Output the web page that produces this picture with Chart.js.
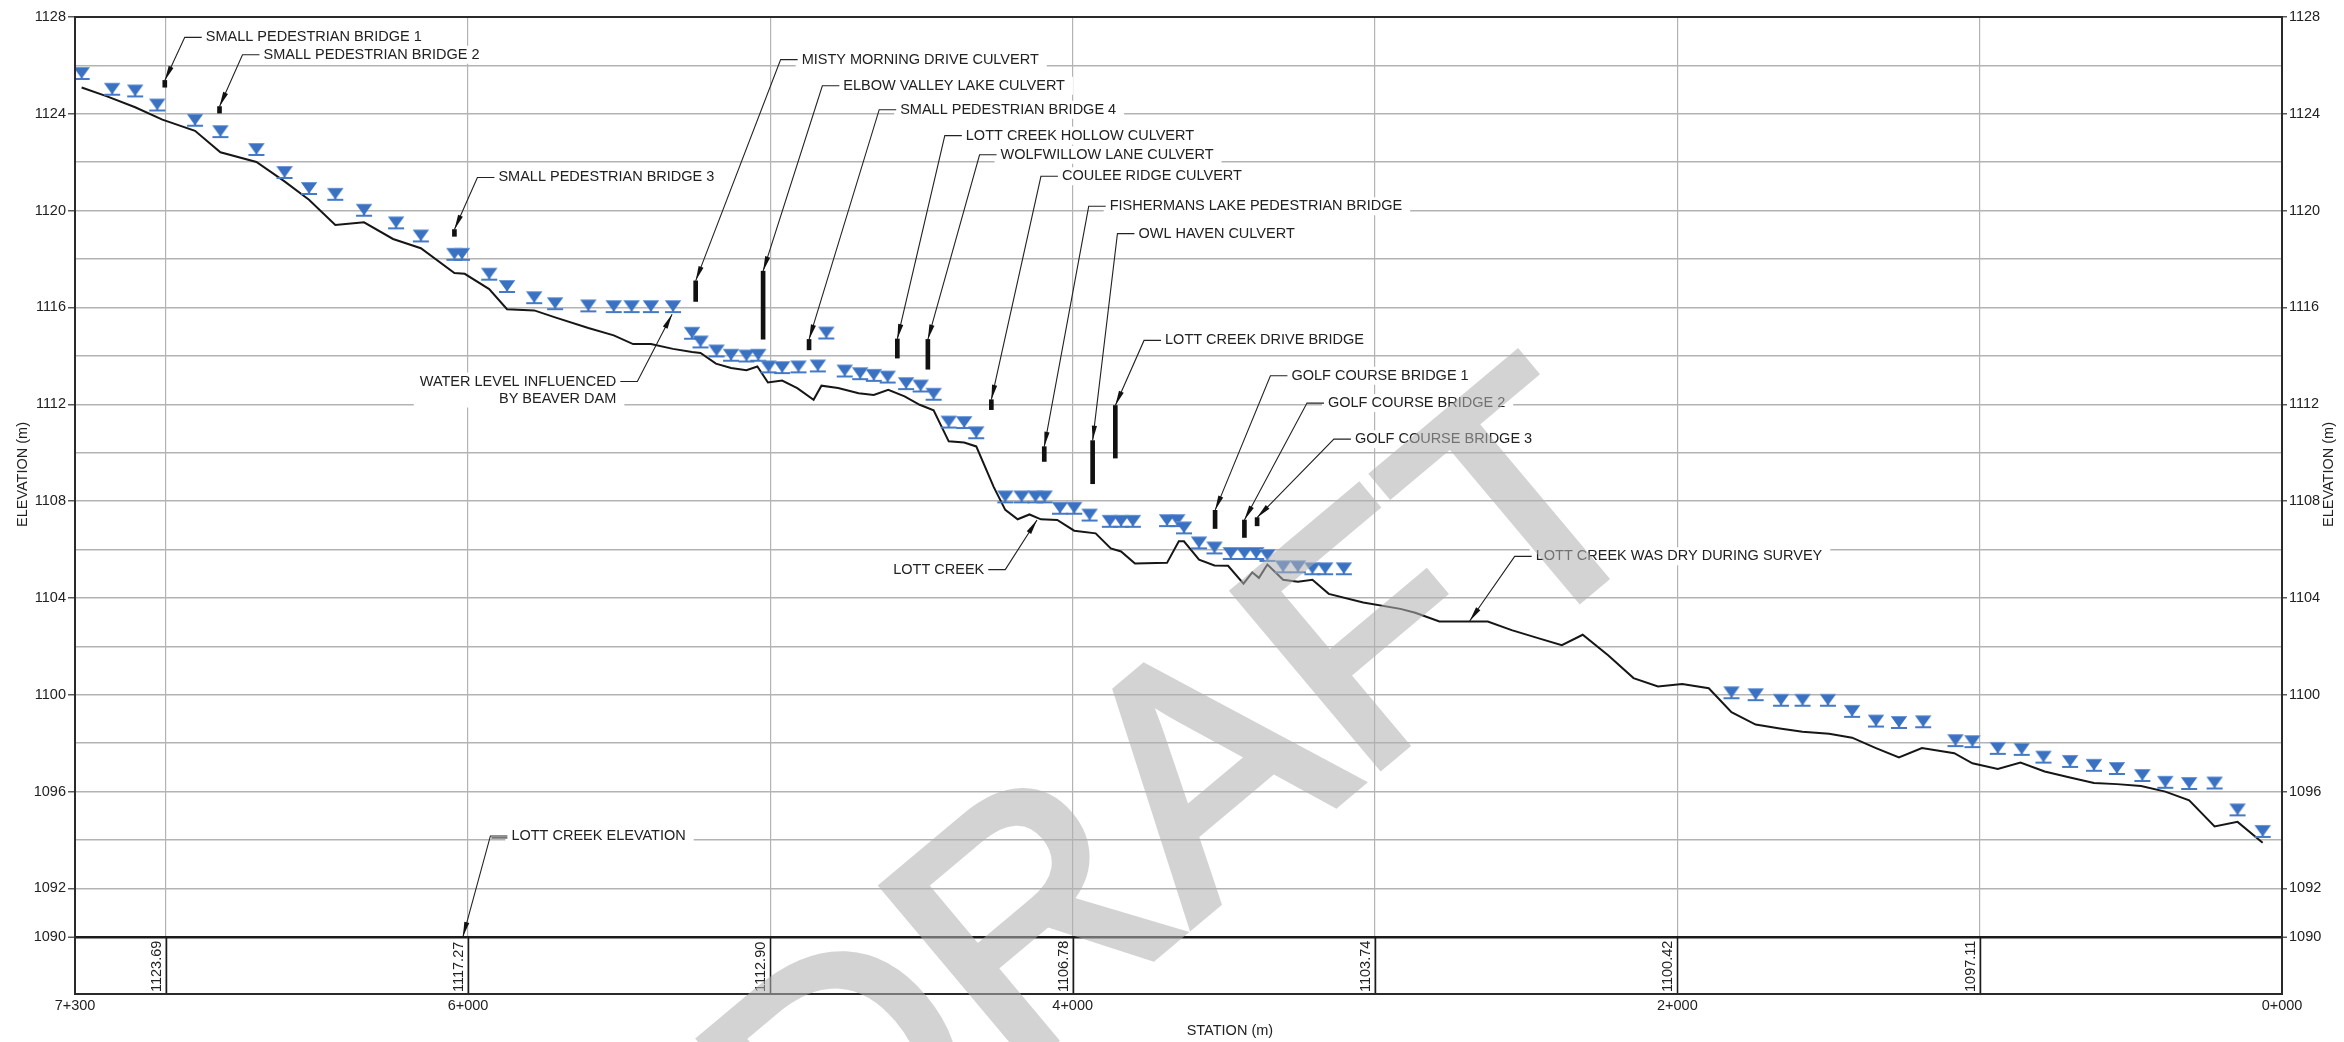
<!DOCTYPE html>
<html>
<head>
<meta charset="utf-8">
<title>Lott Creek Profile</title>
<script src="https://cdn.jsdelivr.net/npm/chart.js@4.4.1/dist/chart.umd.min.js"></script>
<style>
  html, body { margin: 0; padding: 0; background: #fff; }
  #wrap { width: 2344px; height: 1042px; position: relative; }
</style>
</head>
<body>
<div id="wrap"><canvas id="profile-chart"></canvas></div>
<script>
// creek bed profile, station (m) and elevation (m)
const creekStation = [7278, 7194, 7101, 7011, 6903, 6819, 6700, 6607, 6526, 6439, 6344, 6248, 6156, 6045, 6011, 5930, 5871, 5781, 5712, 5602,
  5518, 5454, 5395, 5322, 5259, 5231, 5180, 5130, 5079, 5043, 5008, 4961, 4911, 4857, 4831, 4776, 4708, 4658, 4610, 4556,
  4506, 4460, 4410, 4359, 4319, 4261, 4223, 4182, 4143, 4105, 4051, 3995, 3924, 3874, 3840, 3794, 3688, 3649, 3632, 3582,
  3531, 3486, 3435, 3406, 3384, 3356, 3304, 3255, 3207, 3153, 3039, 2916, 2867, 2787, 2627, 2548, 2458, 2382, 2313, 2229,
  2145, 2064, 1984, 1896, 1821, 1741, 1661, 1586, 1498, 1422, 1343, 1267, 1191, 1084, 1024, 940, 865, 785, 705, 622,
  546, 466, 386, 307, 223, 147, 64];
const creekElev = [1125.09, 1124.72, 1124.27, 1123.76, 1123.30, 1122.41, 1122.01, 1121.21, 1120.45, 1119.41, 1119.52, 1118.83, 1118.45, 1117.42, 1117.39, 1116.76, 1115.93, 1115.88, 1115.59, 1115.15,
  1114.85, 1114.49, 1114.49, 1114.29, 1114.16, 1114.12, 1113.68, 1113.50, 1113.41, 1113.56, 1112.90, 1112.98, 1112.67, 1112.19, 1112.77, 1112.67, 1112.46, 1112.39, 1112.60, 1112.33,
  1111.98, 1111.75, 1110.47, 1110.42, 1110.26, 1108.58, 1107.64, 1107.25, 1107.45, 1107.25, 1107.22, 1106.78, 1106.67, 1106.05, 1105.92, 1105.42, 1105.45, 1106.34, 1106.34, 1105.58,
  1105.34, 1105.33, 1104.59, 1105.06, 1104.83, 1105.38, 1104.75, 1104.67, 1104.75, 1104.17, 1103.81, 1103.55, 1103.39, 1103.03, 1103.03, 1102.67, 1102.33, 1102.05, 1102.48, 1101.63,
  1100.69, 1100.34, 1100.45, 1100.27, 1099.28, 1098.77, 1098.61, 1098.47, 1098.39, 1098.23, 1097.80, 1097.41, 1097.80, 1097.59, 1097.17, 1096.94, 1097.20, 1096.83, 1096.59, 1096.36,
  1096.31, 1096.23, 1096.00, 1095.64, 1094.56, 1094.75, 1093.89];

// surveyed water levels
const waterStation = [7278, 7177, 7101, 7028, 6903, 6819, 6700, 6607, 6526, 6439, 6344, 6238, 6156, 6045, 6020, 5930, 5871, 5781, 5712, 5602,
  5518, 5459, 5395, 5322, 5259, 5231, 5178, 5130, 5079, 5040, 5006, 4961, 4907, 4843, 4815, 4754, 4703, 4658, 4612, 4551,
  4503, 4460, 4410, 4359, 4319, 4223, 4169, 4123, 4093, 4042, 3995, 3944, 3877, 3840, 3801, 3688, 3654, 3632, 3582, 3531,
  3477, 3432, 3393, 3356, 3304, 3255, 3207, 3165, 3103,
  1821, 1741, 1657, 1586, 1502, 1422, 1343, 1267, 1187, 1080, 1024, 940, 861, 789, 701, 622, 546, 462, 386, 307,
  223, 147, 64];
const waterElev = [1125.44, 1124.79, 1124.72, 1124.14, 1123.51, 1123.04, 1122.30, 1121.35, 1120.69, 1120.45, 1119.79, 1119.27, 1118.73, 1117.97, 1117.97, 1117.15, 1116.64, 1116.18, 1115.93, 1115.84,
  1115.81, 1115.81, 1115.81, 1115.81, 1114.71, 1114.35, 1113.98, 1113.80, 1113.77, 1113.80, 1113.32, 1113.29, 1113.32, 1113.36, 1114.72, 1113.15, 1113.04, 1112.97, 1112.90, 1112.63,
  1112.53, 1112.19, 1111.04, 1111.02, 1110.60, 1107.95, 1107.95, 1107.95, 1107.95, 1107.48, 1107.48, 1107.20, 1106.94, 1106.94, 1106.94, 1106.97, 1106.97, 1106.67, 1106.05, 1105.84,
  1105.61, 1105.61, 1105.61, 1105.53, 1105.06, 1105.06, 1104.98, 1104.98, 1104.98,
  1099.86, 1099.78, 1099.55, 1099.55, 1099.55, 1099.09, 1098.69, 1098.63, 1098.66, 1097.88, 1097.84, 1097.56, 1097.52, 1097.20, 1097.02, 1096.86, 1096.73, 1096.44, 1096.16, 1096.11,
  1096.13, 1095.02, 1094.13];

// crossings (bridges / culverts)
const structureName = ['SMALL PEDESTRIAN BRIDGE 1', 'SMALL PEDESTRIAN BRIDGE 2', 'SMALL PEDESTRIAN BRIDGE 3', 'MISTY MORNING DRIVE CULVERT',
  'ELBOW VALLEY LAKE CULVERT', 'SMALL PEDESTRIAN BRIDGE 4', 'LOTT CREEK HOLLOW CULVERT', 'WOLFWILLOW LANE CULVERT', 'COULEE RIDGE CULVERT',
  'FISHERMANS LAKE PEDESTRIAN BRIDGE', 'OWL HAVEN CULVERT', 'LOTT CREEK DRIVE BRIDGE', 'GOLF COURSE BRIDGE 1', 'GOLF COURSE BRIDGE 2', 'GOLF COURSE BRIDGE 3'];
const structureStation = [7003, 6822, 6045, 5247, 5024, 4872, 4580, 4479, 4269, 4094, 3934, 3859, 3529, 3432, 3390];
const structureBottom = [1125.10, 1124.03, 1118.94, 1116.25, 1114.69, 1114.25, 1113.91, 1113.45, 1111.78, 1109.64, 1108.72, 1109.78, 1106.87, 1106.50, 1106.98];
const structureTop = [1125.38, 1124.30, 1119.22, 1117.10, 1117.50, 1114.68, 1114.70, 1114.68, 1112.19, 1110.25, 1110.50, 1111.95, 1107.62, 1107.22, 1107.32];

// elevation read-out band under the profile
const bandStations = [7000, 6000, 5000, 4000, 3000, 2000, 1000];
const bandElevLabels = ['1123.69', '1117.27', '1112.90', '1106.78', '1103.74', '1100.42', '1097.11'];

// axis ticks
const elevTicks = [1090, 1092, 1094, 1096, 1098, 1100, 1102, 1104, 1106, 1108, 1110, 1112, 1114, 1116, 1118, 1120, 1122, 1124, 1126, 1128];
const elevLabels = [1090, 1092, 1096, 1100, 1104, 1108, 1112, 1116, 1120, 1124, 1128];
const stationTicks = [0, 1000, 2000, 3000, 4000, 5000, 6000, 7000, 7300];
const stationLabels = [7300, 6000, 4000, 2000, 0];

// callout leaders: kink point and arrow target, in station / elevation
const callouts = [
  { text: structureName[0], ks: 6937, ke: 1127.16, ts: structureStation[0], te: structureTop[0] },
  { text: structureName[1], ks: 6746, ke: 1126.44, ts: structureStation[1], te: structureTop[1] },
  { text: structureName[2], ks: 5969, ke: 1121.37, ts: structureStation[2], te: structureTop[2] },
  { text: structureName[3], ks: 4966, ke: 1126.24, ts: structureStation[3], te: structureTop[3] },
  { text: structureName[4], ks: 4828, ke: 1125.16, ts: structureStation[4], te: structureTop[4] },
  { text: structureName[5], ks: 4640, ke: 1124.17, ts: structureStation[5], te: structureTop[5] },
  { text: structureName[6], ks: 4423, ke: 1123.10, ts: structureStation[6], te: structureTop[6] },
  { text: structureName[7], ks: 4308, ke: 1122.31, ts: structureStation[7], te: structureTop[7] },
  { text: structureName[8], ks: 4105, ke: 1121.42, ts: structureStation[8], te: structureTop[8] },
  { text: structureName[9], ks: 3947, ke: 1120.18, ts: structureStation[9], te: structureTop[9] },
  { text: structureName[10], ks: 3852, ke: 1119.05, ts: structureStation[10], te: structureTop[10] },
  { text: structureName[11], ks: 3764, ke: 1114.64, ts: structureStation[11], te: structureTop[11] },
  { text: structureName[12], ks: 3346, ke: 1113.18, ts: structureStation[12], te: structureTop[12] },
  { text: structureName[13], ks: 3225, ke: 1112.05, ts: structureStation[13], te: structureTop[13] },
  { text: structureName[14], ks: 3136, ke: 1110.56, ts: structureStation[14], te: structureTop[14] },
  { text: 'WATER LEVEL INFLUENCED\nBY BEAVER DAM', ks: 5440, ke: 1112.94, ts: 5325, te: 1115.72, left: true },
  { text: 'LOTT CREEK', ks: 4223, ke: 1105.17, ts: 4118, te: 1107.22, left: true },
  { text: 'LOTT CREEK WAS DRY DURING SURVEY', ks: 2538, ke: 1105.72, ts: 2687, te: 1103.05 },
  { text: 'LOTT CREEK ELEVATION', ks: 5926, ke: 1094.17, ts: 6017, te: 1090.0, double: true }
];

const FONT = '"Liberation Sans", Arial, sans-serif';
const INK = '#222';

function fmtStation(v) {
  return Math.floor(v / 1000) + '+' + String(v % 1000).padStart(3, '0');
}

// water level symbol: inverted triangle sitting on a bar (bar = water surface)
function waterSymbol() {
  const c = document.createElement('canvas');
  c.width = 18;
  c.height = 26;
  const g = c.getContext('2d');
  g.fillStyle = '#3a71c1';
  g.beginPath();
  g.moveTo(1, 1.5);
  g.lineTo(17, 1.5);
  g.lineTo(10.2, 11);
  g.lineTo(10.2, 13);
  g.lineTo(7.8, 13);
  g.lineTo(7.8, 11);
  g.closePath();
  g.fill();
  g.fillStyle = '#6e99d6';
  g.fillRect(1, 1, 16, 1);
  g.fillStyle = '#4479c6';
  g.fillRect(1, 12, 16, 2);
  return c;
}

function arrowHead(ctx, fx, fy, tx, ty) {
  const ang = Math.atan2(ty - fy, tx - fx);
  const len = 15, half = 2.6;
  ctx.beginPath();
  ctx.moveTo(tx, ty);
  ctx.lineTo(tx - len * Math.cos(ang) + half * Math.sin(ang), ty - len * Math.sin(ang) - half * Math.cos(ang));
  ctx.lineTo(tx - len * Math.cos(ang) - half * Math.sin(ang), ty - len * Math.sin(ang) + half * Math.cos(ang));
  ctx.closePath();
  ctx.fill();
}

const profileDecor = {
  id: 'profileDecor',
  afterDatasetsDraw(chart) {
    const { ctx, chartArea: a } = chart;
    const x = chart.scales.x, y = chart.scales.y;
    ctx.save();
    ctx.font = '14.5px ' + FONT;

    // read-out band
    const y90 = y.getPixelForValue(1090);
    ctx.strokeStyle = '#1c1c1c';
    ctx.lineWidth = 1.5;
    ctx.fillStyle = INK;
    bandStations.forEach((s, i) => {
      const px = Math.round(x.getPixelForValue(s)) + 0.5;
      ctx.beginPath();
      ctx.moveTo(px, y90);
      ctx.lineTo(px, a.bottom);
      ctx.stroke();
      ctx.save();
      ctx.translate(px - 2, a.bottom - 2);
      ctx.rotate(-Math.PI / 2);
      ctx.textAlign = 'left';
      ctx.textBaseline = 'bottom';
      ctx.fillText(bandElevLabels[i], 0, 0);
      ctx.restore();
    });

    // callouts
    const items = callouts.map(c => {
      const lines = c.text.split('\n');
      const w = Math.max(...lines.map(l => ctx.measureText(l).width));
      return {
        c, lines, w,
        kx: x.getPixelForValue(c.ks), ky: y.getPixelForValue(c.ke),
        tx: x.getPixelForValue(c.ts), ty: y.getPixelForValue(c.te),
        dir: c.left ? -1 : 1
      };
    });
    ctx.fillStyle = '#fff';
    items.forEach(it => {
      const tx0 = it.kx + it.dir * 21;
      const bx = it.dir > 0 ? tx0 - 6 : tx0 - it.w - 6;
      ctx.fillRect(bx, it.ky - 9, it.w + 14, it.lines.length * 17 + 1);
    });
    ctx.strokeStyle = INK;
    ctx.fillStyle = '#111';
    items.forEach(it => {
      ctx.lineWidth = 1.1;
      ctx.beginPath();
      ctx.moveTo(it.kx + it.dir * 17, it.ky);
      ctx.lineTo(it.kx, it.ky);
      ctx.lineTo(it.tx, it.ty);
      ctx.stroke();
      if (it.c.double) {
        ctx.beginPath();
        ctx.moveTo(it.kx + 17, it.ky + 2);
        ctx.lineTo(it.kx + 1, it.ky + 2);
        ctx.stroke();
      }
      arrowHead(ctx, it.kx, it.ky, it.tx, it.ty);
    });
    ctx.fillStyle = INK;
    ctx.textBaseline = 'middle';
    items.forEach(it => {
      ctx.textAlign = it.dir > 0 ? 'left' : 'right';
      const tx0 = it.kx + it.dir * 21;
      it.lines.forEach((l, i) => ctx.fillText(l, tx0, it.ky + i * 17));
    });

    // frame
    ctx.strokeStyle = '#2a2a2a';
    ctx.lineWidth = 2;
    ctx.strokeRect(a.left, a.top, a.right - a.left, a.bottom - a.top);
    ctx.restore();
  },
  afterDraw(chart) {
    const { ctx } = chart;
    const x = chart.scales.x, y = chart.scales.y;
    ctx.save();
    ctx.font = '14.5px ' + FONT;
    ctx.fillStyle = INK;
    ctx.textAlign = 'center';
    ctx.textBaseline = 'middle';
    const ym = y.getPixelForValue(1109.1);
    [23, 2329].forEach(px => {
      ctx.save();
      ctx.translate(px, ym);
      ctx.rotate(-Math.PI / 2);
      ctx.fillText('ELEVATION (m)', 0, 0);
      ctx.restore();
    });
    ctx.fillText('STATION (m)', x.getPixelForValue(3480), 1031);
    ctx.restore();

    // DRAFT watermark, drawn opaque off-screen then laid on with alpha
    const off = document.createElement('canvas');
    off.width = chart.width;
    off.height = chart.height;
    const g = off.getContext('2d');
    g.translate(1248, 877);
    g.rotate(-40 * Math.PI / 180);
    g.font = '330px ' + FONT;
    g.textAlign = 'center';
    g.textBaseline = 'alphabetic';
    g.fillStyle = '#b1b1b1';
    g.strokeStyle = '#b1b1b1';
    g.lineWidth = 9;
    g.lineJoin = 'miter';
    g.fillText('DRAFT', 0, 0);
    g.strokeText('DRAFT', 0, 0);
    ctx.save();
    ctx.globalAlpha = 0.56;
    ctx.drawImage(off, 0, 0);
    ctx.restore();
  }
};

const tickFont = { family: FONT, size: 14.5 };
const gridGrey = '#b3b3b3';

function elevAxis(position) {
  return {
    type: 'linear',
    position: position,
    min: 1087.64,
    max: 1128,
    afterBuildTicks: s => { s.ticks = elevTicks.map(v => ({ value: v })); },
    afterFit: s => { s.width = position === 'left' ? 75 : 62; },
    border: { display: false },
    grid: {
      drawOnChartArea: position === 'left',
      color: c => c.tick && c.tick.value === 1090 ? '#1c1c1c' : (c.tick && c.tick.value === 1128 ? 'rgba(0,0,0,0)' : gridGrey),
      lineWidth: c => c.tick && c.tick.value === 1090 ? 2.4 : 1.6,
      tickLength: position === 'left' ? 7 : 5,
      tickWidth: 1.2,
      tickColor: c => c.tick && elevLabels.includes(c.tick.value) ? '#333' : 'rgba(0,0,0,0)'
    },
    ticks: {
      autoSkip: false,
      padding: 2,
      color: INK,
      font: tickFont,
      callback: v => elevLabels.includes(v) ? String(v) : ''
    }
  };
}

const waterImg = waterSymbol();

new Chart(document.getElementById('profile-chart').getContext('2d'), {
  type: 'scatter',
  data: {
    datasets: [
      {
        type: 'line',
        label: 'Lott Creek elevation',
        data: creekStation.map((s, i) => ({ x: s, y: creekElev[i] })),
        borderColor: '#161616',
        borderWidth: 2,
        pointRadius: 0,
        tension: 0,
        fill: false,
        order: 3
      },
      {
        type: 'bar',
        label: 'Crossings',
        data: structureStation.map((s, i) => ({ x: s, y: [structureBottom[i], structureTop[i]] })),
        backgroundColor: '#111',
        borderWidth: 0,
        barThickness: 4,
        order: 2
      },
      {
        type: 'scatter',
        label: 'Water level',
        data: waterStation.map((s, i) => ({ x: s, y: waterElev[i] })),
        pointStyle: waterImg,
        pointRadius: 6,
        order: 1
      }
    ]
  },
  options: {
    responsive: true,
    maintainAspectRatio: false,
    animation: false,
    devicePixelRatio: 1,
    layout: { padding: { top: 17, left: 0, right: 0, bottom: 0 } },
    plugins: { legend: { display: false }, tooltip: { enabled: false } },
    scales: {
      x: {
        type: 'linear',
        min: 0,
        max: 7300,
        reverse: true,
        offset: false,
        afterBuildTicks: s => { s.ticks = stationTicks.map(v => ({ value: v })); },
        afterFit: s => { s.height = 48; },
        border: { display: false },
        grid: {
          offset: false,
          drawTicks: false,
          color: c => c.tick && (c.tick.value === 0 || c.tick.value === 7300) ? 'rgba(0,0,0,0)' : gridGrey,
          lineWidth: 1.2
        },
        ticks: {
          autoSkip: false,
          maxRotation: 0,
          minRotation: 0,
          padding: 3,
          color: INK,
          font: tickFont,
          callback: v => stationLabels.includes(v) ? fmtStation(v) : ''
        }
      },
      y: elevAxis('left'),
      y2: elevAxis('right')
    }
  },
  plugins: [profileDecor]
});
</script>
</body>
</html>
